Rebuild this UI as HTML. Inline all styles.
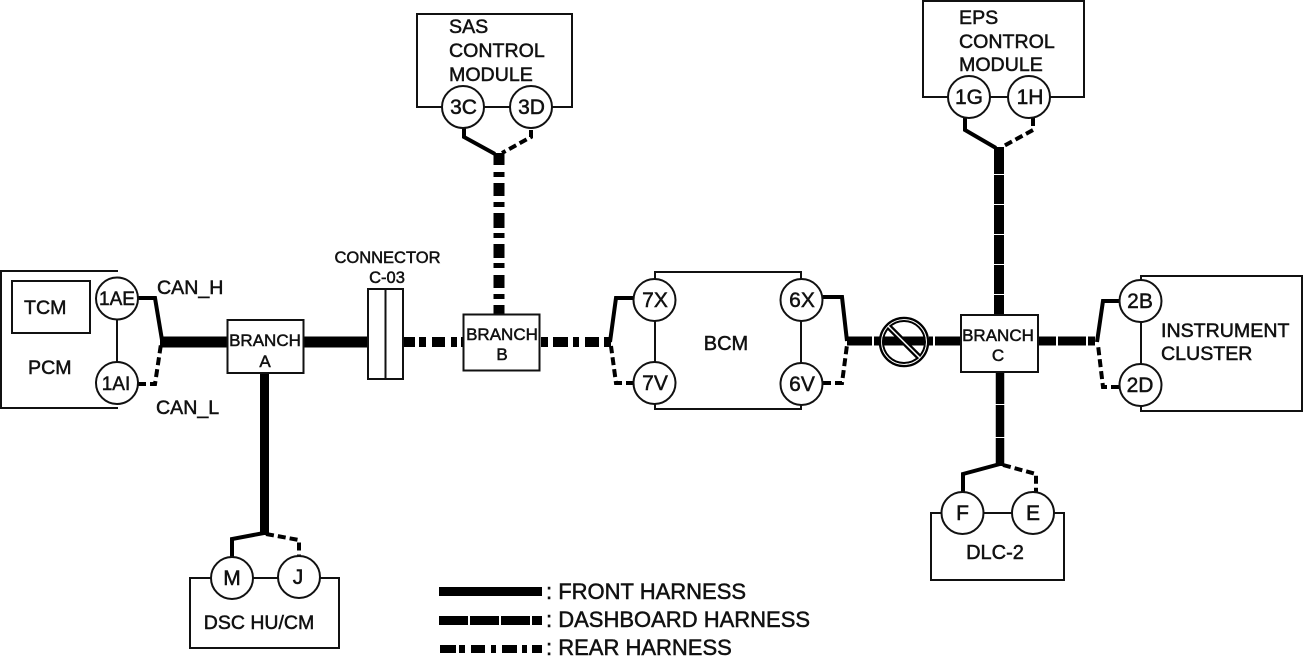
<!DOCTYPE html>
<html><head><meta charset="utf-8"><style>
html,body{margin:0;padding:0;background:#fff;width:1303px;height:661px;overflow:hidden}
svg{display:block}
text{font-family:"Liberation Sans",sans-serif;fill:#111;stroke:#111;stroke-width:.5}
.b{fill:#fff;stroke:#111;stroke-width:2}
.c{fill:#fff;stroke:#111;stroke-width:2}
.t{fill:none;stroke:#111;stroke-width:2}
.w{fill:none;stroke:#000;stroke-width:4}
.d{fill:none;stroke:#000;stroke-width:4;stroke-dasharray:8 4}
.m{text-anchor:middle;font-size:20px}
.n{font-size:19.600px}
.br{text-anchor:middle;font-size:17px}
.l{font-size:22px}
</style></head><body>
<svg width="1303" height="661" viewBox="0 0 1303 661" xmlns="http://www.w3.org/2000/svg">
<!-- Module boxes -->
<path class="t" d="M118 271H1V408H118"/>
<rect class="b" x="12" y="281" width="78" height="52"/>
<path class="t" d="M117 300V365"/>
<path class="t" d="M417 107V14H572V107ZM463 107H531"/>
<path class="t" d="M923 97V1H1084V97ZM969 97H1029"/>
<path class="t" d="M655 300V272H801V300M801 384V409H655V383M655 320V362M801 320V364"/>
<path class="t" d="M1141 301V276H1302V411H1141V385M1141 320V366"/>
<path class="t" d="M962 513H931V580H1064V513H1033M962 513H1033"/>
<path class="t" d="M232 578H190V648H339V578H299M232 578H299"/>

<!-- Front harness -->
<path d="M160 342H228M304 342H368" stroke="#000" stroke-width="11" fill="none"/>
<path d="M264.500 373V535" stroke="#000" stroke-width="9" fill="none"/>
<path class="w" d="M138 298H155L162 340"/>
<path class="d" d="M138 384H155L161 344"/>
<path class="w" d="M232 558V539L264 533"/>
<path class="d" d="M266 534L299 540V558"/>

<!-- Rear harness -->
<g fill="#000">
<rect x="403" y="337" width="12" height="10"/><rect x="419" y="337" width="7" height="10"/>
<rect x="432" y="337" width="13" height="10"/><rect x="451" y="337" width="6" height="10"/>
<rect x="461" y="337" width="3" height="10"/>
<rect x="541" y="337" width="7" height="10"/><rect x="553" y="337" width="15" height="10"/>
<rect x="573" y="337" width="6" height="10"/><rect x="585" y="337" width="14" height="10"/>
<rect x="604" y="337" width="7" height="10"/>
<rect x="493.500" y="153" width="11" height="12"/><rect x="493.500" y="172" width="11" height="5"/>
<rect x="493.500" y="183" width="11" height="13"/><rect x="493.500" y="202" width="11" height="5"/>
<rect x="493.500" y="213" width="11" height="15"/><rect x="493.500" y="233" width="11" height="5"/>
<rect x="493.500" y="244" width="11" height="14"/><rect x="493.500" y="263" width="11" height="5"/>
<rect x="493.500" y="275" width="11" height="13"/><rect x="493.500" y="294" width="11" height="5"/>
<rect x="493.500" y="305" width="11" height="10"/>
</g>
<path class="w" d="M464 128V137L495 154"/>
<path class="d" d="M531 130V137L502 153"/>
<path class="w" d="M634 298H616L610 342"/>
<path class="d" d="M634 383H616L611 346"/>

<!-- Dashboard harness -->
<path d="M847 341H872M874 341H925M929 341H933M935 341H961M1038 341H1056M1058 341H1086M1088 341H1095" stroke="#000" stroke-width="9" fill="none"/>
<path d="M999 147V174M999 175V204M999 205V234M999 235V264M999 265V294M999 295V315" stroke="#000" stroke-width="10" fill="none"/>
<path d="M1000 372V404M1000 405V437M1000 438V466" stroke="#000" stroke-width="8.500" fill="none"/>
<path class="w" d="M823 297H842L847 341"/>
<path class="d" d="M823 383H842L847 345"/>
<path class="w" d="M1119 301H1103L1097 342"/>
<path class="d" d="M1119 387H1103L1098 345"/>
<path class="w" d="M965 117V130L996 148"/>
<path class="d" d="M1033 118V130L1002 147"/>
<path class="w" d="M963 492V474L1000 464"/>
<path class="d" d="M1003 465L1036 474V492"/>

<!-- Prohibit mark -->
<circle cx="904" cy="342" r="24" fill="none" stroke="#000" stroke-width="2.500"/>
<circle cx="904" cy="342" r="21" fill="none" stroke="#000" stroke-width="2"/>
<path d="M888 326L920 358" stroke="#000" stroke-width="6"/>
<path d="M888 326L920 358" stroke="#fff" stroke-width="1.500"/>
<circle cx="904" cy="342" r="22.500" fill="none" stroke="#fff" stroke-width=".8"/>

<!-- Branches & connector -->
<rect class="b" x="227.500" y="320" width="76" height="53"/>
<rect class="b" x="463.500" y="314.500" width="76" height="56"/>
<rect class="b" x="961" y="315" width="77" height="57"/>
<rect class="b" x="368" y="289" width="35" height="90"/>
<path class="t" d="M385.500 289V379"/>

<!-- Circles -->
<circle class="c" cx="117" cy="298.500" r="21"/><circle class="c" cx="117" cy="383" r="21"/>
<circle class="c" cx="463" cy="107" r="21"/><circle class="c" cx="531" cy="107" r="21"/>
<circle class="c" cx="654.500" cy="300" r="21"/><circle class="c" cx="654.500" cy="383" r="21"/>
<circle class="c" cx="801.500" cy="300" r="21"/><circle class="c" cx="801.500" cy="384" r="21"/>
<circle class="c" cx="1140.500" cy="301" r="21"/><circle class="c" cx="1140.500" cy="385" r="21"/>
<circle class="c" cx="969" cy="97" r="21"/><circle class="c" cx="1029" cy="97" r="21"/>
<circle class="c" cx="962.500" cy="513" r="21"/><circle class="c" cx="1033" cy="513" r="21"/>
<circle class="c" cx="232" cy="578" r="21"/><circle class="c" cx="299" cy="577" r="21"/>

<!-- Labels -->
<text class="m" x="117" y="305" style="font-size:19px">1AE</text>
<text class="m" x="116" y="390" style="font-size:19px">1AI</text>
<text class="m" x="463.500" y="114" style="font-size:21px">3C</text><text class="m" x="531.500" y="114" style="font-size:21px">3D</text>
<text class="m" x="655" y="307" style="font-size:21px">7X</text><text class="m" x="655" y="390" style="font-size:21px">7V</text>
<text class="m" x="802" y="307" style="font-size:21px">6X</text><text class="m" x="802" y="391" style="font-size:21px">6V</text>
<text class="m" x="1140" y="308" style="font-size:21px">2B</text><text class="m" x="1140" y="392" style="font-size:21px">2D</text>
<text class="m" x="969" y="104" style="font-size:21px">1G</text><text class="m" x="1030" y="104" style="font-size:21px">1H</text>
<text class="m" x="962.500" y="520" style="font-size:21px">F</text><text class="m" x="1033" y="520" style="font-size:21px">E</text>
<text class="m" x="232" y="585" style="font-size:21px">M</text><text class="m" x="298" y="584" style="font-size:21px">J</text>

<text class="n" x="24" y="314">TCM</text>
<text class="n" x="28" y="374">PCM</text>
<text class="n" x="157" y="294">CAN_H</text>
<text class="n" x="156" y="414">CAN_L</text>
<text class="m" x="387.500" y="263" style="font-size:16.500px">CONNECTOR</text>
<text class="m" x="387" y="283" style="font-size:16.500px">C-03</text>
<text class="br" x="265" y="346">BRANCH</text><text class="br" x="265" y="367">A</text>
<text class="br" x="502" y="340">BRANCH</text><text class="br" x="502" y="360">B</text>
<text class="br" x="998" y="341">BRANCH</text><text class="br" x="998" y="361">C</text>
<text class="n" x="449" y="33">SAS</text>
<text class="n" x="449" y="57">CONTROL</text>
<text class="n" x="449" y="81">MODULE</text>
<text class="n" x="959" y="24">EPS</text>
<text class="n" x="959" y="48">CONTROL</text>
<text class="n" x="959" y="71">MODULE</text>
<text class="m" x="726" y="350">BCM</text>
<text class="n" x="1161" y="337">INSTRUMENT</text>
<text class="n" x="1161" y="360">CLUSTER</text>
<text class="m" x="995" y="559">DLC-2</text>
<text class="m" x="259" y="629" style="font-size:19.500px">DSC HU/CM</text>

<!-- Legend -->
<rect x="439" y="587" width="103" height="9" fill="#000"/>
<g fill="#000">
<rect x="439" y="616" width="29" height="9"/><rect x="470" y="616" width="29" height="9"/>
<rect x="501" y="616" width="29" height="9"/><rect x="532" y="616" width="10" height="9"/>
<rect x="440" y="645" width="16" height="8"/><rect x="459" y="645" width="6" height="8"/>
<rect x="471" y="645" width="14" height="8"/><rect x="491" y="645" width="5" height="8"/>
<rect x="502" y="645" width="15" height="8"/><rect x="522" y="645" width="5" height="8"/>
<rect x="532" y="645" width="10" height="8"/>
</g>
<text class="l" x="546" y="599">: FRONT HARNESS</text>
<text class="l" x="546" y="627">: DASHBOARD HARNESS</text>
<text class="l" x="546" y="655">: REAR HARNESS</text>
</svg>
</body></html>
